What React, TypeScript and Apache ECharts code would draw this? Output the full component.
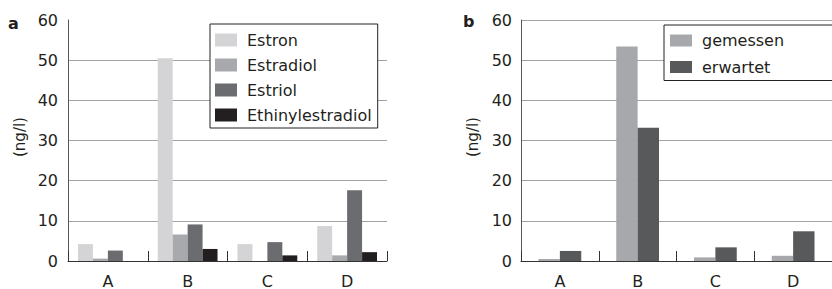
import React, { useEffect, useRef } from "react";
import * as echarts from "echarts";

const categories = ["A", "B", "C", "D"];
const estron = [4.2, 50.5, 4.2, 8.7];
const estradiol = [0.6, 6.6, 0, 1.4];
const estriol = [2.6, 9.1, 4.7, 17.6];
const ethinylestradiol = [0, 3.0, 1.4, 2.2];
const gemessen = [0.5, 53.4, 0.9, 1.3];
const erwartet = [2.5, 33.2, 3.4, 7.4];
const yTicks = [0, 10, 20, 30, 40, 50, 60];

const FONT = "DejaVu Sans";
const TXT = "#231f20";

export default function App() {
  const ref = useRef<HTMLDivElement>(null);
  useEffect(() => {
    if (!ref.current) return;
    const chart = echarts.init(ref.current, undefined, { renderer: "svg" });
    const yAxisBase = (gridIndex: number, showTop: boolean) => ({
      type: "value",
      gridIndex,
      min: yTicks[0],
      max: yTicks[yTicks.length - 1],
      interval: 10,
      axisLine: { show: true, lineStyle: { color: "#555", width: 1 } },
      axisTick: { show: false },
      axisLabel: { fontFamily: FONT, fontSize: 16, color: TXT, margin: gridIndex === 0 ? 10 : 9, padding: [3, 0, 0, 0] },
      splitLine: {
        show: true,
        lineStyle: { color: "#a3a3a3", width: 1 },
        showMaxLine: showTop,
        showMinLine: false,
      },
    });
    const xAxisBase = (gridIndex: number) => ({
      type: "category",
      gridIndex,
      data: categories,
      axisLine: { show: true, lineStyle: { color: "#333", width: 1 } },
      axisTick: { show: true, inside: true, length: 10, interval: 0, lineStyle: { color: "#333" } },
      axisLabel: { fontFamily: FONT, fontSize: 16, color: TXT, margin: 12 },
    });
    const legendBase = {
      orient: "vertical",
      itemWidth: 22,
      itemHeight: 13,
      borderColor: "#222",
      borderWidth: 1,
      backgroundColor: "#fff",
      borderRadius: 0,
      icon: "rect",
      textStyle: { fontFamily: FONT, fontSize: 16, color: TXT, padding: [0, 0, 0, 5] },
      selectedMode: false,
    };
    chart.setOption({
      animation: false,
      grid: [
        { left: 68, top: 20, width: 319, height: 244 },
        { left: 521, top: 20, width: 320, height: 244 },
      ],
      xAxis: [xAxisBase(0), xAxisBase(1)],
      yAxis: [yAxisBase(0, false), yAxisBase(1, true)],
      legend: [
        {
          ...legendBase,
          data: ["Estron", "Estradiol", "Estriol", "Ethinylestradiol"],
          left: 210,
          top: 24,
          itemGap: 9,
          padding: [8, 6, 5, 5],
        },
        {
          ...legendBase,
          data: ["gemessen", "erwartet"],
          left: 664,
          top: 25,
          itemGap: 10.5,
          itemHeight: 12,
          padding: [7.5, 60, 5.5, 6],
        },
      ],
      series: [
        { name: "Estron", type: "bar", xAxisIndex: 0, yAxisIndex: 0, data: estron, itemStyle: { color: "#d4d4d6" }, barGap: "0%", barCategoryGap: "25%" },
        { name: "Estradiol", type: "bar", xAxisIndex: 0, yAxisIndex: 0, data: estradiol, itemStyle: { color: "#a8a9ac" }, barGap: "0%", barCategoryGap: "25%" },
        { name: "Estriol", type: "bar", xAxisIndex: 0, yAxisIndex: 0, data: estriol, itemStyle: { color: "#6b6c6f" }, barGap: "0%", barCategoryGap: "25%" },
        { name: "Ethinylestradiol", type: "bar", xAxisIndex: 0, yAxisIndex: 0, data: ethinylestradiol, itemStyle: { color: "#231f20" }, barGap: "0%", barCategoryGap: "25%" },
        { name: "gemessen", type: "bar", xAxisIndex: 1, yAxisIndex: 1, data: gemessen, itemStyle: { color: "#a7a8ab" }, barGap: "0%", barCategoryGap: "45%" },
        { name: "erwartet", type: "bar", xAxisIndex: 1, yAxisIndex: 1, data: erwartet, itemStyle: { color: "#58595b" }, barGap: "0%", barCategoryGap: "45%" },
      ],
      graphic: [
        { type: "text", left: 8, top: 15, style: { text: "a", fontFamily: FONT, fontSize: 16, fontWeight: "bold", fill: TXT } },
        { type: "text", left: 463, top: 13, style: { text: "b", fontFamily: FONT, fontSize: 16, fontWeight: "bold", fill: TXT } },
        {
          type: "text", x: 20, y: 137, rotation: Math.PI / 2,
          style: { text: "(ng/l)", fontFamily: FONT, fontSize: 15, fill: TXT, align: "center", verticalAlign: "middle" },
        },
        {
          type: "text", x: 473, y: 137, rotation: Math.PI / 2,
          style: { text: "(ng/l)", fontFamily: FONT, fontSize: 15, fill: TXT, align: "center", verticalAlign: "middle" },
        },
      ],
    });
    return () => chart.dispose();
  }, []);
  return (
    <div
      ref={ref}
      style={{ position: "fixed", left: 0, top: 0, width: 832, height: 289, background: "#fff" }}
    />
  );
}
